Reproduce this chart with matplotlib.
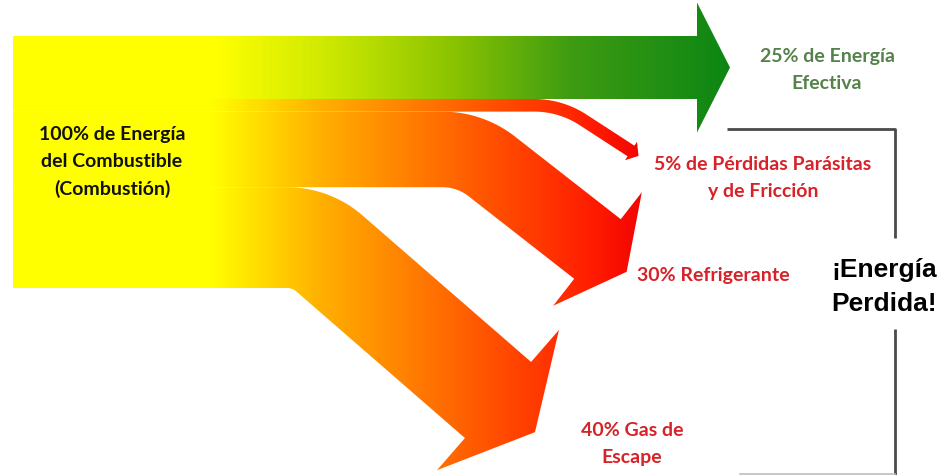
import numpy as np
import matplotlib
matplotlib.use("Agg")
import matplotlib.pyplot as plt
from matplotlib.path import Path
from matplotlib.patches import PathPatch
from matplotlib.colors import LinearSegmentedColormap

# ---- data -------------------------------------------------------------
source_label = "100% de Energía\ndel Combustible\n(Combustión)"
flow_names = ["Energía Efectiva", "Pérdidas Parásitas y de Fricción",
              "Refrigerante", "Gas de Escape"]
flow_shares = [25, 5, 30, 40]
flow_labels = ["25% de Energía\nEfectiva",
               "5% de Pérdidas Parásitas\ny de Fricción",
               "30% Refrigerante",
               "40% Gas de\nEscape"]
lost_label = "¡Energía\nPerdida!"

# ---- layout (pixel space, y grows downward) ---------------------------
W, H = 944, 475
X0, Y_TOP, Y_BOT = 13, 36, 288
# head-base centre, exit angle (deg), bend radius, head half-width, head length
head_base = [(697, None), (631, 151), (597.5, 249), (498, 400)]
exit_angle = [0, 33, 38, 41]
bend_radius = [0, 90, 80, 65]
head_half = [65, 11, 72, 93]
head_len = [33, 9, 37, 49]
label_pos = [(827, 70), (763, 178), (713, 276), (632, 444)]
label_color = ["#55824a", "#d62228", "#d62228", "#d62228"]

GREEN_STOPS = [(0, "#ffff00"), (215, "#ffff00"), (330, "#cce800"),
               (450, "#8cc400"), (570, "#3f9c12"), (730, "#0c8614"),
               (W, "#0c8614")]
RED_STOPS = [(0, "#ffff00"), (210, "#ffff00"), (320, "#ffb000"),
             (400, "#ff8400"), (500, "#ff4c00"), (590, "#ff1e00"),
             (650, "#f20000"), (W, "#f20000")]


def make_cmap(name, stops):
    return LinearSegmentedColormap.from_list(
        name, [(x / W, c) for x, c in stops])


def band_outline(yc, hw, end, theta_deg, R, hhw, hl):
    ex = end[0]
    if not theta_deg:
        return [(X0, yc - hw), (ex, yc - hw), (ex, yc - hhw), (ex + hl, yc),
                (ex, yc + hhw), (ex, yc + hw), (X0, yc + hw)]
    ey = end[1]
    th = np.radians(theta_deg)
    xb = ex - R * np.sin(th) - (ey - yc - R * (1 - np.cos(th))) / np.tan(th)
    phi = np.linspace(0, th, 60)
    up = [(xb + (R + hw) * np.sin(p), yc + R - (R + hw) * np.cos(p)) for p in phi]
    lo = [(xb + (R - hw) * np.sin(p), yc + R - (R - hw) * np.cos(p)) for p in phi]
    n = np.array([np.sin(th), -np.cos(th)])
    d = np.array([np.cos(th), np.sin(th)])
    e = np.array([ex, ey])
    pts = [(X0, yc - hw)] + up
    pts += [tuple(e + hw * n), tuple(e + hhw * n), tuple(e + hl * d),
            tuple(e - hhw * n), tuple(e - hw * n)]
    pts += lo[::-1] + [(X0, yc + hw)]
    return pts


fig = plt.figure(figsize=(W / 100, H / 100), dpi=100)
ax = fig.add_axes([0, 0, 1, 1])
ax.set_xlim(0, W)
ax.set_ylim(H, 0)
ax.axis("off")

px_per_pct = (Y_BOT - Y_TOP) / sum(flow_shares)
gradient = np.linspace(0, 1, 1024).reshape(1, -1)
cmaps = [make_cmap("effective", GREEN_STOPS)] + \
        [make_cmap("losses", RED_STOPS)] * 3

y = Y_TOP
for i, share in enumerate(flow_shares):
    width = share * px_per_pct
    yc = y + width / 2
    end = head_base[i] if head_base[i][1] is not None else (head_base[i][0], yc)
    pts = band_outline(yc, width / 2, end, exit_angle[i], bend_radius[i],
                       head_half[i], head_len[i])
    path = Path(pts + [pts[0]], closed=True)
    patch = PathPatch(path, facecolor="none", edgecolor="none")
    ax.add_patch(patch)
    im = ax.imshow(gradient, extent=(0, W, H, 0), aspect="auto",
                   cmap=cmaps[i], interpolation="bilinear", zorder=1)
    im.set_clip_path(patch)
    y += width

text_font = ["Lato", "DejaVu Sans"]
ax.text(112, 162, source_label, ha="center", va="center", fontsize=14,
        fontweight="bold", family=text_font, color="#111111",
        linespacing=1.7, zorder=3)

for (lx, ly), lab, col in zip(label_pos, flow_labels, label_color):
    ax.text(lx, ly, lab, ha="center", va="center", fontsize=14,
            fontweight="bold", family=text_font, color=col,
            linespacing=1.7, zorder=3)

ax.text(884, 287, lost_label, ha="center", va="center", fontsize=19,
        fontweight="bold", family=["Liberation Sans", "DejaVu Sans"],
        color="#000000", linespacing=1.5, zorder=3)

# bracket grouping the lost-energy flows
line_kw = dict(color="#4a4a4a", lw=2, solid_capstyle="butt", zorder=2)
ax.plot([727, 895, 895], [129, 129, 238], **line_kw)
ax.plot([895, 895], [329, 475], **line_kw)
ax.plot([740, 895], [474, 474], color="#bdbdbd", lw=1.2, zorder=2)

fig.savefig("out.png", dpi=100, facecolor="white")
